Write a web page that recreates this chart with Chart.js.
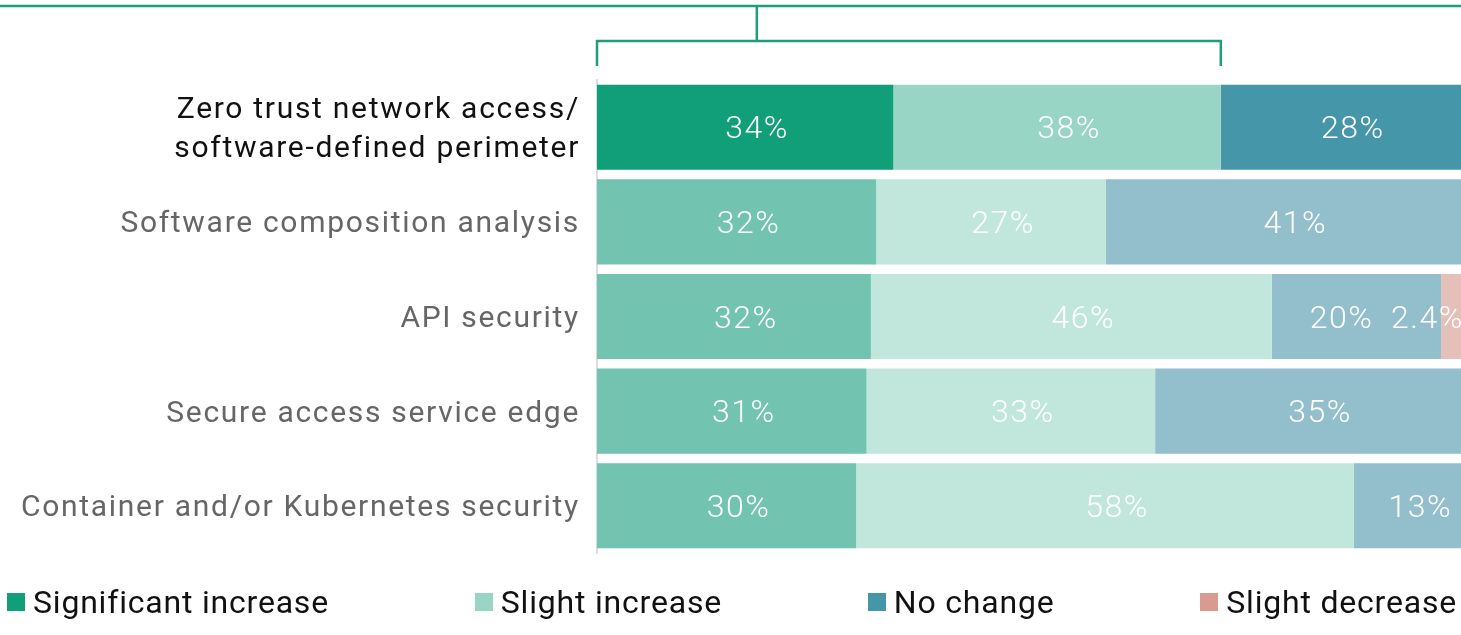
<!DOCTYPE html>
<html>
<head>
<meta charset="utf-8">
<script src="https://cdn.jsdelivr.net/npm/chart.js@4"></script>
<style>
  body { margin: 0; background: #fff; }
  #wrap { position: relative; width: 1461px; height: 635px; overflow: hidden; }
  #legend {
    position: absolute; left: 7px; right: 4px; top: 582px; height: 40px;
    display: flex; justify-content: space-between; align-items: center;
    font-family: Roboto, sans-serif; font-size: 32px; letter-spacing: 0.8px; color: #111;
  }
  #legend .item { display: flex; align-items: center; white-space: nowrap; }
  #legend .sw { width: 18px; height: 18px; margin-right: 8px; }
</style>
</head>
<body>
<div id="wrap">
  <canvas id="chart" width="1461" height="635"></canvas>
  <div id="legend"></div>
</div>
<script>
var categories = [
  ['Zero trust network access/', 'software-defined perimeter'],
  'Software composition analysis',
  'API security',
  'Secure access service edge',
  'Container and/or Kubernetes security'
];
var seriesNames = ['Significant increase', 'Slight increase', 'No change', 'Slight decrease'];
// shares (labels show them rounded)
var significantIncrease = [34.3, 32.3, 31.7, 31.2, 30.0];
var slightIncrease = [37.9, 26.6, 46.4, 33.4, 57.6];
var noChange = [27.8, 41.1, 19.6, 35.4, 12.6];
var slightDecrease = [0, 0, 2.4, 0, 0];

// colours: first row is highlighted, the rest are washed out
var strong = ['#109f78', '#98d5c5', '#4696aa', '#d99a8f'];
var pale = ['#72c4b0', '#c1e6dc', '#93bfcc', '#e5c0b9'];
var bracketColor = '#1f9e7b';
var fontFamily = 'Roboto, sans-serif';

function makeSet(i, values) {
  return {
    label: seriesNames[i],
    data: values,
    backgroundColor: function(c) { return c.dataIndex === 0 ? strong[i] : pale[i]; },
    borderWidth: 0,
    barPercentage: 0.9,
    categoryPercentage: 1
  };
}

function fmt(v) {
  return (v < 5 ? v.toFixed(1) : Math.round(v)) + '%';
}

// the category labels are set with a little tracking
var tracking = {
  id: 'tracking',
  beforeDraw: function(chart) { chart.ctx.letterSpacing = '1.7px'; }
};

var segmentLabels = {
  id: 'segmentLabels',
  afterDatasetsDraw: function(chart) {
    var ctx = chart.ctx;
    var sets = chart.data.datasets;
    ctx.save();
    ctx.letterSpacing = '1.5px';
    ctx.font = '300 32px ' + fontFamily;
    ctx.fillStyle = '#fff';
    ctx.textBaseline = 'middle';
    sets.forEach(function(ds, di) {
      chart.getDatasetMeta(di).data.forEach(function(bar, i) {
        var v = ds.data[i];
        if (!v) return;
        if (v < 5) {
          ctx.textAlign = 'right';
          ctx.fillText(fmt(v), bar.x + 2, bar.y + 3);
        } else {
          // make room when a thin segment follows
          var next = sets[di + 1] ? sets[di + 1].data[i] : 0;
          var shift = next && next < 5 ? -15 : 12;
          ctx.textAlign = 'center';
          ctx.fillText(fmt(v), (bar.base + bar.x) / 2 + shift, bar.y + 3);
        }
      });
    });
    ctx.restore();
  }
};

// bracket over the first row grouping the two increase segments
var stemAt = 18.5;
var bracket = {
  id: 'bracket',
  afterDraw: function(chart) {
    var ctx = chart.ctx;
    var x = chart.scales.x;
    var top = chart.chartArea.top;
    var l = x.getPixelForValue(0);
    var r = x.getPixelForValue(significantIncrease[0] + slightIncrease[0]);
    var s = x.getPixelForValue(stemAt);
    ctx.save();
    ctx.strokeStyle = bracketColor;
    ctx.lineWidth = 2.5;
    ctx.beginPath();
    ctx.moveTo(0, top - 74);
    ctx.lineTo(chart.width, top - 74);
    ctx.moveTo(s, top - 74);
    ctx.lineTo(s, top - 39);
    ctx.moveTo(l, top - 14);
    ctx.lineTo(l, top - 39);
    ctx.lineTo(r, top - 39);
    ctx.lineTo(r, top - 14);
    ctx.stroke();
    ctx.restore();
  }
};

new Chart(document.getElementById('chart'), {
  type: 'bar',
  data: {
    labels: categories,
    datasets: [
      makeSet(0, significantIncrease),
      makeSet(1, slightIncrease),
      makeSet(2, noChange),
      makeSet(3, slightDecrease)
    ]
  },
  options: {
    indexAxis: 'y',
    responsive: false,
    animation: false,
    layout: { padding: { top: 80, bottom: 82, left: 0, right: 0 } },
    plugins: { legend: { display: false }, tooltip: { enabled: false } },
    scales: {
      x: { stacked: true, min: 0, max: 100, display: false },
      y: {
        stacked: true,
        grid: { display: false, drawTicks: false },
        border: { display: true, color: '#dddddd', width: 2 },
        afterFit: function(scale) { scale.width = 597; },
        ticks: {
          padding: 17,
          labelOffset: 3,
          color: function(c) { return c.index === 0 ? '#111111' : '#666666'; },
          font: { family: fontFamily, size: 30, lineHeight: 1.3 }
        }
      }
    }
  },
  plugins: [tracking, segmentLabels, bracket]
});

var legend = document.getElementById('legend');
seriesNames.forEach(function(name, i) {
  var item = document.createElement('div');
  item.className = 'item';
  var sw = document.createElement('span');
  sw.className = 'sw';
  sw.style.background = strong[i];
  item.appendChild(sw);
  item.appendChild(document.createTextNode(name));
  legend.appendChild(item);
});
</script>
</body>
</html>
